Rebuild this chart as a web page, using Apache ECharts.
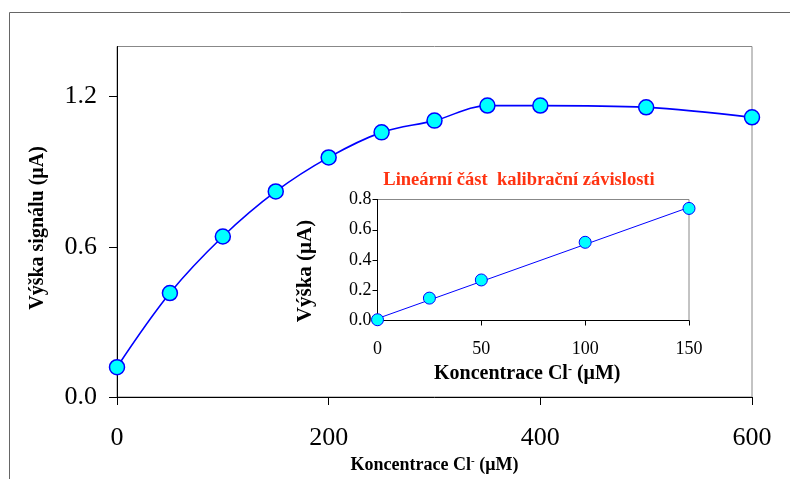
<!DOCTYPE html>
<html><head><meta charset="utf-8">
<script src="https://cdn.jsdelivr.net/npm/echarts@6/dist/echarts.min.js"></script>
<style>html,body{margin:0;padding:0;background:#fff}#c{width:790px;height:479px}</style>
</head><body><div id="c"></div>
<script>
// Main calibration curve
const mainX = [0, 50, 100, 150, 200, 250, 300, 350, 400, 500, 600];
const mainY = [0.119, 0.415, 0.641, 0.821, 0.957, 1.057, 1.104, 1.164, 1.164, 1.157, 1.117];
const mainYTicks = [0, 0.6, 1.2];
// Inset: linear part
const insetX = [0, 25, 50, 100, 150];
const insetY = [0.005, 0.148, 0.268, 0.517, 0.741];
const fitX = [0, 150];
const fitY = [0.013, 0.748];

const mainTitleX = 'Koncentrace Cl{sup|-} (\u03bcM)';
const mainTitleY = 'V\u00fd\u0161ka sign\u00e1lu (\u03bcA)';
const insetTitleY = 'V\u00fd\u0161ka (\u03bcA)';
const insetCaption = 'Line\u00e1rn\u00ed \u010d\u00e1st  kalibra\u010dn\u00ed z\u00e1vislosti';

const FONT = "'Liberation Serif', 'Times New Roman', serif";
const zip = (xs, ys) => xs.map((x, i) => [x, ys[i]]);

const chart = echarts.init(document.getElementById('c'), null, {renderer: 'canvas'});
chart.setOption({
  animation: false,
  backgroundColor: '#fff',
  grid: [
    {left: 117, top: 46.5, width: 635, height: 350.5, show: true, borderColor: '#888', borderWidth: 1, containLabel: false},
    {left: 377.5, top: 199.5, width: 311.5, height: 121, show: true, borderColor: '#888', borderWidth: 1, backgroundColor: '#fff', containLabel: false}
  ],
  xAxis: [
    {
      gridIndex: 0, type: 'value', min: 0, max: 600, interval: 200,
      axisLine: {lineStyle: {color: '#000', width: 1}},
      axisTick: {show: true, inside: false, length: 8, lineStyle: {color: '#000'}},
      axisLabel: {fontFamily: FONT, fontSize: 26, color: '#000', margin: 28},
      splitLine: {show: false},
      name: mainTitleX, nameLocation: 'middle', nameGap: 57,
      nameTextStyle: {fontFamily: FONT, fontSize: 18, fontWeight: 'bold', color: '#000',
        rich: {sup: {fontFamily: FONT, fontSize: 11, fontWeight: 'bold', color: '#000', verticalAlign: 'top'}}}
    },
    {
      gridIndex: 1, type: 'value', min: 0, max: 150, interval: 50,
      axisLine: {lineStyle: {color: '#000', width: 1}},
      axisTick: {show: true, inside: false, length: 5, lineStyle: {color: '#000'}},
      axisLabel: {fontFamily: FONT, fontSize: 18, color: '#000', margin: 20},
      splitLine: {show: false},
      name: mainTitleX, nameLocation: 'middle', nameGap: 43,
      nameTextStyle: {fontFamily: FONT, fontSize: 20, fontWeight: 'bold', color: '#000', padding: [0, 12, 0, 0],
        rich: {sup: {fontFamily: FONT, fontSize: 12, fontWeight: 'bold', color: '#000', verticalAlign: 'top'}}}
    }
  ],
  yAxis: [
    {
      gridIndex: 0, type: 'value', min: 0, max: 1.4,
      axisLine: {lineStyle: {color: '#000', width: 1}},
      axisTick: {show: true, inside: false, length: 8, lineStyle: {color: '#000'}, customValues: mainYTicks},
      axisLabel: {fontFamily: FONT, fontSize: 26, color: '#000', margin: 20, customValues: mainYTicks,
        formatter: v => v.toFixed(1)},
      splitLine: {show: false}
    },
    {
      gridIndex: 1, type: 'value', min: 0, max: 0.8, interval: 0.2,
      axisLine: {lineStyle: {color: '#000', width: 1}},
      axisTick: {show: true, inside: false, length: 5, lineStyle: {color: '#000'}},
      axisLabel: {fontFamily: FONT, fontSize: 18, color: '#000', margin: 6, formatter: v => v.toFixed(1)},
      splitLine: {show: false}
    }
  ],
  graphic: [
    {type: 'rect', silent: true, z: 100, shape: {x: 9.5, y: 12.5, width: 1000, height: 1000},
      style: {fill: 'none', stroke: '#666', lineWidth: 1}},
    {type: 'text', silent: true, x: 38, y: 228, rotation: Math.PI / 2,
      style: {text: mainTitleY, fontFamily: FONT, fontSize: 20, fontWeight: 'bold', fill: '#000',
        textAlign: 'center', textVerticalAlign: 'middle'}},
    {type: 'text', silent: true, x: 306, y: 271, rotation: Math.PI / 2,
      style: {text: insetTitleY, fontFamily: FONT, fontSize: 21, fontWeight: 'bold', fill: '#000',
        textAlign: 'center', textVerticalAlign: 'middle'}},
    {type: 'text', silent: true, x: 519, y: 180,
      style: {text: insetCaption, fontFamily: FONT, fontSize: 18.5, fontWeight: 'bold', fill: '#FF3311',
        textAlign: 'center', textVerticalAlign: 'middle'}}
  ],
  series: [
    {
      type: 'line', xAxisIndex: 0, yAxisIndex: 0, data: zip(mainX, mainY), smooth: 0.35,
      lineStyle: {color: '#0000FF', width: 1.6},
      symbol: 'circle', symbolSize: 15,
      itemStyle: {color: '#00FFFF', borderColor: '#0000FF', borderWidth: 1.5}, z: 3
    },
    {
      type: 'line', xAxisIndex: 1, yAxisIndex: 1, data: zip(fitX, fitY), showSymbol: false, symbol: 'none',
      lineStyle: {color: '#0000FF', width: 1}, z: 3
    },
    {
      type: 'scatter', xAxisIndex: 1, yAxisIndex: 1, data: zip(insetX, insetY),
      symbol: 'circle', symbolSize: 12,
      itemStyle: {color: '#00FFFF', borderColor: '#0000FF', borderWidth: 1, opacity: 1}, z: 4
    }
  ]
});
</script></body></html>
